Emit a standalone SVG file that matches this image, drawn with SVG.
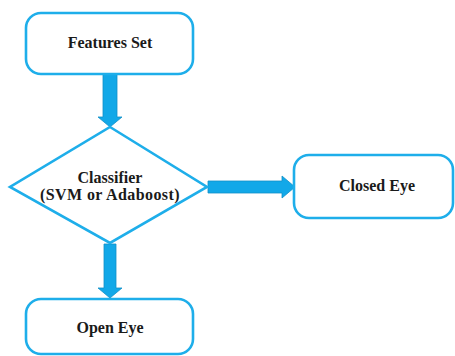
<svg xmlns="http://www.w3.org/2000/svg" width="455" height="356" viewBox="0 0 455 356">
  <style>
    .box { fill: #ffffff; stroke: #1eaeea; stroke-width: 2.6; }
    .lbl { font-family: 'Liberation Serif', 'DejaVu Serif', serif; font-weight: bold; font-size: 16px; fill: #1a1a1a; text-anchor: middle; }
    .arrow { fill: #12a8e8; stroke: #1190c8; stroke-width: 0.8; }
  </style>
  <rect width="455" height="356" fill="#ffffff"/>

  <g id="connectors">
    <!-- Features Set to Classifier -->
    <polygon class="arrow" points="103,74 117,74 117,117 122,117 110,127 98,117 103,117"/>
    <!-- Classifier to Closed Eye -->
    <polygon class="arrow" points="208,181 282,181 282,176 295,187 282,198 282,193 208,193"/>
    <!-- Classifier to Open Eye -->
    <polygon class="arrow" points="104,244 116,244 116,288 122,288 110,298 98,288 104,288"/>
  </g>

  <g id="features-set">
    <rect class="box" x="26" y="13" width="167" height="61" rx="15"/>
    <text class="lbl" x="110" y="48">Features Set</text>
  </g>

  <g id="classifier">
    <polygon class="box" points="110,127 207,187 110,243 10,187"/>
    <text class="lbl" x="110" y="183">Classifier</text>
    <text class="lbl" x="110" y="200" letter-spacing="0.4">(SVM or Adaboost)</text>
  </g>

  <g id="closed-eye">
    <rect class="box" x="294" y="155" width="159" height="63" rx="15"/>
    <text class="lbl" x="377" y="191">Closed Eye</text>
  </g>

  <g id="open-eye">
    <rect class="box" x="26" y="299" width="167" height="55" rx="15"/>
    <text class="lbl" x="110" y="333">Open Eye</text>
  </g>
</svg>
